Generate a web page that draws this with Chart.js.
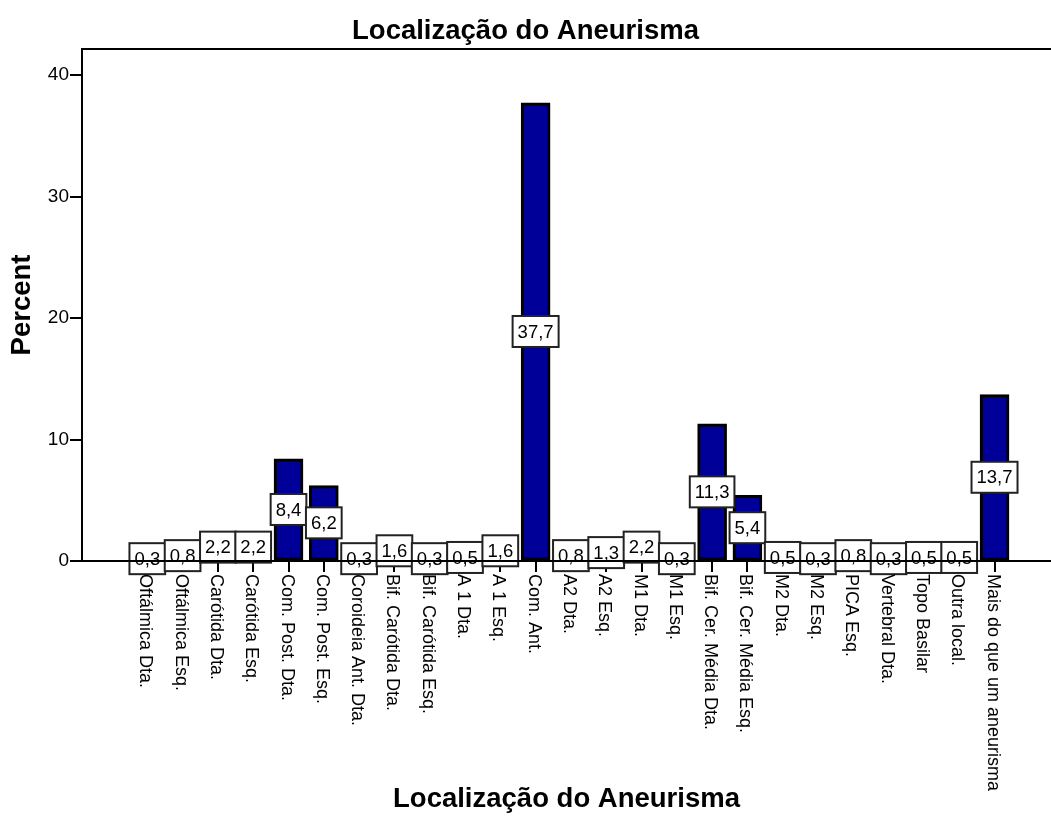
<!DOCTYPE html>
<html>
<head>
<meta charset="utf-8">
<script src="https://cdn.jsdelivr.net/npm/chart.js@4.4.0/dist/chart.umd.min.js"></script>
<style>
    body { margin: 0; background: #fff; }
    canvas { display: block; }
</style>
</head>
<body>
<canvas id="grafico" width="1051" height="839"></canvas>
<script>
// categorias e percentuais
const categorias = [
    'Oftálmica Dta.', 'Oftálmica Esq.', 'Carótida Dta.', 'Carótida Esq.',
    'Com. Post. Dta.', 'Com. Post. Esq.', 'Coroideia Ant. Dta.', 'Bif. Carótida Dta.',
    'Bif. Carótida Esq.', 'A 1 Dta.', 'A 1 Esq.', 'Com. Ant.', 'A2 Dta.', 'A2 Esq.',
    'M1 Dta.', 'M1 Esq.', 'Bif. Cer. Média Dta.', 'Bif. Cer. Média Esq.', 'M2 Dta.',
    'M2 Esq.', 'PICA Esq.', 'Vertebral Dta.', 'Topo Basilar', 'Outra local.',
    'Mais do que um aneurisma'
];
const percentuais = [
    0.3, 0.8, 2.2, 2.2, 8.4, 6.2, 0.3, 1.6, 0.3, 0.5, 1.6, 37.7, 0.8, 1.3,
    2.2, 0.3, 11.3, 5.4, 0.5, 0.3, 0.8, 0.3, 0.5, 0.5, 13.7
];
const ticksY = [0, 10, 20, 30, 40];
const titulo = 'Localização do Aneurisma';
const tituloY = 'Percent';

const fonte = 'Arial, "Liberation Sans", sans-serif';
const formatar = v => v.toFixed(1).replace('.', ',');

// rotulos do eixo x escritos de cima para baixo, como no SPSS
const rotulosX = {
    id: 'rotulosX',
    afterDraw(chart) {
        const ctx = chart.ctx;
        const escalaX = chart.scales.x;
        const base = chart.chartArea.bottom + 13;
        ctx.save();
        ctx.font = '18px ' + fonte;
        ctx.fillStyle = '#000';
        ctx.textAlign = 'left';
        ctx.textBaseline = 'middle';
        categorias.forEach((nome, i) => {
            const x = escalaX.getPixelForValue(i);
            ctx.save();
            ctx.translate(x - 2, base);
            ctx.rotate(Math.PI / 2);
            ctx.fillText(nome, 0, 0);
            ctx.restore();
        });
        ctx.restore();
    }
};

// caixinhas brancas com o valor no meio de cada barra
const caixasValor = {
    id: 'caixasValor',
    afterDatasetsDraw(chart) {
        const ctx = chart.ctx;
        const meta = chart.getDatasetMeta(0);
        ctx.save();
        ctx.font = '18.5px ' + fonte;
        ctx.textAlign = 'center';
        ctx.textBaseline = 'middle';
        meta.data.forEach((barra, i) => {
            const texto = formatar(percentuais[i]);
            const largura = Math.max(ctx.measureText(texto).width + 10, 33);
            const altura = 31;
            const cy = (barra.y + barra.base) / 2;
            ctx.fillStyle = '#fff';
            ctx.fillRect(barra.x - largura / 2, cy - altura / 2, largura, altura);
            ctx.strokeStyle = '#222';
            ctx.lineWidth = 2;
            ctx.strokeRect(barra.x - largura / 2, cy - altura / 2, largura, altura);
            ctx.fillStyle = '#000';
            ctx.fillText(texto, barra.x, cy + 1);
        });
        ctx.restore();
    },
    afterDraw(chart) {
        // moldura de cima e linha do zero por cima das caixas
        const ctx = chart.ctx;
        const area = chart.chartArea;
        const zero = chart.scales.y.getPixelForValue(0);
        ctx.save();
        ctx.strokeStyle = '#000';
        ctx.lineWidth = 2;
        ctx.beginPath();
        ctx.moveTo(area.left, area.top);
        ctx.lineTo(area.right, area.top);
        ctx.moveTo(area.left, zero);
        ctx.lineTo(area.right, zero);
        ctx.stroke();
        ctx.restore();
    }
};

new Chart(document.getElementById('grafico'), {
    type: 'bar',
    data: {
        datasets: [{
            data: percentuais.map((v, i) => ({ x: i, y: v })),
            backgroundColor: '#000098',
            borderColor: '#000',
            borderWidth: 3,
            borderSkipped: false,
            barThickness: 29
        }]
    },
    options: {
        responsive: false,
        devicePixelRatio: 1,
        animation: false,
        layout: { padding: 0 },
        plugins: {
            legend: { display: false },
            tooltip: { enabled: false },
            title: {
                display: true,
                text: titulo,
                color: '#000',
                font: { family: fonte, size: 27.5, weight: 'bold' },
                padding: { top: 15, bottom: 1 }
            }
        },
        scales: {
            x: {
                type: 'linear',
                offset: false,
                min: -1.85,
                max: 25.6,
                afterBuildTicks: escala => {
                    escala.ticks = categorias.map((_, i) => ({ value: i }));
                },
                afterFit: escala => { escala.height = 278; },
                ticks: { display: false },
                grid: {
                    offset: false,
                    drawOnChartArea: false,
                    drawTicks: true,
                    tickLength: 11,
                    color: '#000',
                    lineWidth: 2
                },
                border: { display: true, color: '#000', width: 2 },
                title: {
                    display: true,
                    text: titulo,
                    color: '#000',
                    font: { family: fonte, size: 27.5, weight: 'bold' },
                    padding: { top: 0, bottom: 23 }
                }
            },
            y: {
                min: 0,
                max: 42.14,
                afterBuildTicks: escala => {
                    escala.ticks = ticksY.map(v => ({ value: v }));
                },
                afterFit: escala => { escala.width = 82; },
                ticks: {
                    color: '#000',
                    padding: 1,
                    font: { family: fonte, size: 19 }
                },
                grid: {
                    drawOnChartArea: false,
                    drawTicks: true,
                    tickLength: 12,
                    color: '#000',
                    lineWidth: 2
                },
                border: { display: true, color: '#000', width: 2 },
                title: {
                    display: true,
                    text: tituloY,
                    color: '#000',
                    font: { family: fonte, size: 27.5, weight: 'bold' },
                    padding: { top: 6, bottom: 0 }
                }
            }
        }
    },
    plugins: [caixasValor, rotulosX]
});
</script>
</body>
</html>
